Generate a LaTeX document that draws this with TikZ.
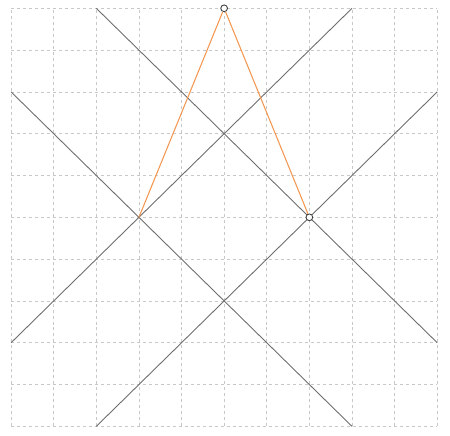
\documentclass[tikz,border=0pt]{standalone}
\usepackage[dvipsnames]{xcolor}
\usepackage{tikz}
\usetikzlibrary{calc}

\definecolor{gridgray}{RGB}{200,200,200}
\definecolor{linegray}{RGB}{110,110,110}
\definecolor{sideorange}{RGB}{242,150,80}

\begin{document}
\begin{tikzpicture} [
    x=1cm, y=0.981cm,
    gridline/.style = {gridgray, line width=0.5pt, dash pattern=on 2pt off 2pt},
    crossline/.style = {linegray, line width=0.6pt},
    sideline/.style = {sideorange, line width=0.7pt},
    dot/.style = {circle, draw=black!75, fill=white, line width=0.6pt, inner sep=0pt, minimum size=4.5pt}
]
    \useasboundingbox (-0.26cm,-0.21cm) rectangle (10.30cm,10.005cm);

    % dashed grid
    \foreach \i in {0,...,10} {
        \draw [gridline] (\i,0) -- (\i,10);
        \draw [gridline] (0,\i) -- (10,\i);
    }

    % end points of the four crossing lines
    \coordinate (t2) at (2,10);
    \coordinate (t8) at (8,10);
    \coordinate (b2) at (2,0);
    \coordinate (b8) at (8,0);
    \coordinate (l2) at (0,2);
    \coordinate (l8) at (0,8);
    \coordinate (r2) at (10,2);
    \coordinate (r8) at (10,8);

    \draw [crossline] (t2) -- (r2);
    \draw [crossline] (t8) -- (l2);
    \draw [crossline] (l8) -- (b8);
    \draw [crossline] (r8) -- (b2);

    % triangle sides
    \coordinate (left) at (3,5);
    \node [dot] (apex) at (5,10) {};
    \node [dot] (right) at (7,5) {};

    \draw [sideline] (left) -- (apex) -- (right);
\end{tikzpicture}
\end{document}
